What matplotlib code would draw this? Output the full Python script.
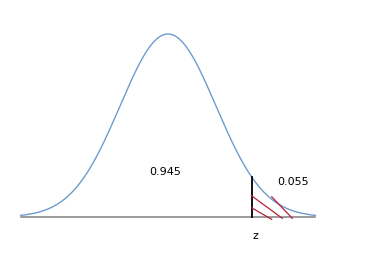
import numpy as np
import matplotlib
matplotlib.use("Agg")
import matplotlib.pyplot as plt

# standard normal curve, right tail beyond z
z_cut = 1.75
z_range = (-3.07, 3.07)
area_left = "0.945"
area_right = "0.055"
z_label = "z"

# hatch strokes in the tail (z, density) pairs
hatch_x = [[1.74, 2.38], [1.74, 2.16], [2.16, 2.59]]
hatch_y = [[0.0464, -0.0028], [0.0203, -0.0050], [0.0442, -0.0028]]


def pdf(x):
    return np.exp(-x ** 2 / 2) / np.sqrt(2 * np.pi)


fig = plt.figure(figsize=(3.92, 2.74), dpi=100)
ax = fig.add_axes([0, 0, 1, 1])

x = np.linspace(z_range[0], z_range[1], 400)
ax.plot(x, pdf(x), color="#6f9bcf", lw=1.0)
ax.plot(z_range, [0, 0], color="#8a8a8a", lw=1.2)

ax.plot([z_cut, z_cut], [0, pdf(z_cut)], color="black", lw=1.3)
for hx, hy in zip(hatch_x, hatch_y):
    ax.plot(hx, hy, color="#b8203a", lw=0.9)

ax.text(-0.05, 0.098, area_left, fontsize=8, ha="center", va="center")
ax.text(2.6, 0.076, area_right, fontsize=8, ha="center", va="center")
ax.text(1.83, -0.042, z_label, fontsize=8, ha="center", va="center")

ax.set_xlim(-3.5, 4.667)
ax.set_ylim(-0.1242, 0.473)
ax.axis("off")

fig.savefig("out.png", dpi=100)
